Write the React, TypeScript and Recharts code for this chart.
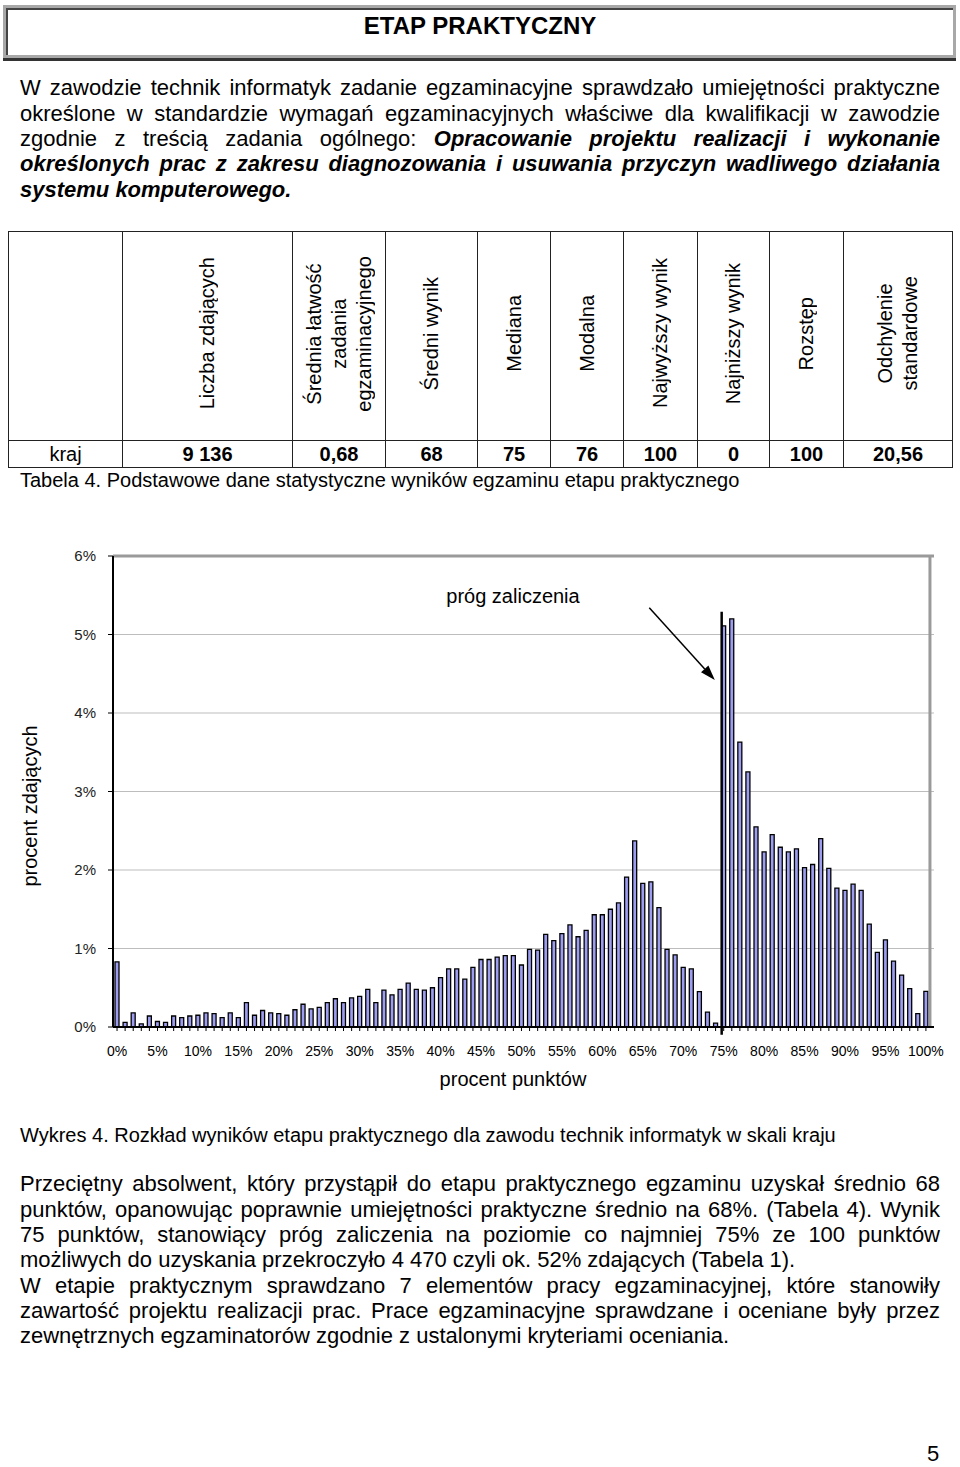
import React from 'react';
import { ComposedChart, Bar, XAxis, YAxis, CartesianGrid, ReferenceLine } from 'recharts';

// ---- chart data ----
const SCORES = [
  0, 1, 2, 3, 4, 5, 6, 7, 8, 9, 10, 11, 12, 13, 14, 15, 16, 17, 18, 19, 20,
  21, 22, 23, 24, 25, 26, 27, 28, 29, 30, 31, 32, 33, 34, 35, 36, 37, 38, 39, 40,
  41, 42, 43, 44, 45, 46, 47, 48, 49, 50, 51, 52, 53, 54, 55, 56, 57, 58, 59, 60,
  61, 62, 63, 64, 65, 66, 67, 68, 69, 70, 71, 72, 73, 74, 75, 76, 77, 78, 79, 80,
  81, 82, 83, 84, 85, 86, 87, 88, 89, 90, 91, 92, 93, 94, 95, 96, 97, 98, 99, 100,
];
const SHARE = [
  0.83, 0.06, 0.18, 0.04, 0.14, 0.07, 0.06, 0.14, 0.12, 0.14, 0.15,
  0.18, 0.17, 0.12, 0.18, 0.12, 0.31, 0.15, 0.21, 0.18, 0.17,
  0.15, 0.22, 0.29, 0.23, 0.25, 0.31, 0.36, 0.31, 0.37, 0.39,
  0.48, 0.31, 0.47, 0.41, 0.48, 0.56, 0.48, 0.47, 0.5, 0.63,
  0.74, 0.74, 0.61, 0.76, 0.86, 0.86, 0.89, 0.91, 0.91, 0.79,
  0.99, 0.98, 1.18, 1.1, 1.19, 1.3, 1.15, 1.23, 1.43, 1.43,
  1.5, 1.58, 1.91, 2.37, 1.83, 1.85, 1.52, 0.99, 0.92, 0.76,
  0.74, 0.45, 0.19, 0.05, 5.11, 5.2, 3.63, 3.25, 2.55, 2.23,
  2.45, 2.29, 2.23, 2.27, 2.03, 2.07, 2.4, 2.02, 1.77, 1.74,
  1.82, 1.74, 1.31, 0.95, 1.11, 0.84, 0.66, 0.49, 0.17, 0.455,
];
const Y_TICKS = [0, 1, 2, 3, 4, 5, 6];
const X_LABELLED = [0, 5, 10, 15, 20, 25, 30, 35, 40, 45, 50, 55, 60, 65, 70, 75, 80, 85, 90, 95, 100];
const THRESHOLD_X = 74.75;
const THRESHOLD_TOP = 5.29;
const THRESHOLD_BOTTOM = -0.1;
const ARROW_FROM = { x: 65.8, y: 5.34 };
const ARROW_TO = { x: 73.9, y: 4.42 };

// ---- table data ----
const TABLE_HEADERS = [
  [''],
  ['Liczba zdających'],
  ['Średnia łatwość', 'zadania', 'egzaminacyjnego'],
  ['Średni wynik'],
  ['Mediana'],
  ['Modalna'],
  ['Najwyższy wynik'],
  ['Najniższy wynik'],
  ['Rozstęp'],
  ['Odchylenie', 'standardowe'],
];
const TABLE_ROW = ['kraj', '9 136', '0,68', '68', '75', '76', '100', '0', '100', '20,56'];
const TABLE_COL_WIDTHS = [114, 170, 93, 92, 73, 73, 74, 72, 74, 109];

const chartData = SCORES.map((s, i) => ({ score: s, share: SHARE[i] }));

const FONT = '"Liberation Sans", Arial, sans-serif';

const Arrow = (p: any) => {
  const { x1, y1, x2, y2 } = p;
  const ang = Math.atan2(y2 - y1, x2 - x1);
  const L = 15;
  const W = 5;
  const bx = x2 - L * Math.cos(ang);
  const by = y2 - L * Math.sin(ang);
  const px = -Math.sin(ang) * W;
  const py = Math.cos(ang) * W;
  return (
    <g>
      <line x1={x1} y1={y1} x2={bx} y2={by} stroke="#000" strokeWidth={1.5} />
      <polygon points={`${x2},${y2} ${bx + px},${by + py} ${bx - px},${by - py}`} fill="#000" />
    </g>
  );
};

const JLine = ({ children, last }: { children: React.ReactNode; last?: boolean }) => (
  <div
    style={{
      textAlign: last ? 'left' : 'justify',
      textAlignLast: last ? 'left' : 'justify',
      height: 25.3,
    } as React.CSSProperties}
  >
    {children}
  </div>
);

const BI = ({ children }: { children: React.ReactNode }) => (
  <span style={{ fontWeight: 'bold', fontStyle: 'italic' }}>{children}</span>
);

export default function App() {
  return (
    <div
      style={{
        position: 'absolute',
        left: 0,
        top: 0,
        width: 960,
        height: 1467,
        background: '#fff',
        fontFamily: FONT,
        color: '#000',
      }}
    >
      {/* title box */}
      <div
        style={{
          position: 'absolute',
          left: 3,
          top: 5,
          width: 953,
          height: 53,
          boxSizing: 'border-box',
          border: '3px solid #a8a8a8',
          boxShadow: 'inset 2px 2px 0 #444, 0 3px 0 #333',
        }}
      />
      <div
        style={{
          position: 'absolute',
          left: 0,
          top: 12,
          width: 960,
          textAlign: 'center',
          fontSize: 24,
          lineHeight: '28px',
          fontWeight: 'bold',
        }}
      >
        ETAP PRAKTYCZNY
      </div>

      {/* paragraph 1 */}
      <div style={{ position: 'absolute', left: 20, top: 75.4, width: 920, fontSize: 22, lineHeight: '25.3px' }}>
        <JLine>W zawodzie technik informatyk zadanie egzaminacyjne sprawdzało umiejętności praktyczne</JLine>
        <JLine>określone w standardzie wymagań egzaminacyjnych właściwe dla kwalifikacji w zawodzie</JLine>
        <JLine>
          zgodnie z treścią zadania ogólnego: <BI>Opracowanie projektu realizacji i wykonanie</BI>
        </JLine>
        <JLine>
          <BI>określonych prac z zakresu diagnozowania i usuwania przyczyn wadliwego działania</BI>
        </JLine>
        <JLine last>
          <BI>systemu komputerowego.</BI>
        </JLine>
      </div>

      {/* table */}
      <table
        style={{
          position: 'absolute',
          left: 8,
          top: 231,
          width: 944,
          borderCollapse: 'collapse',
          tableLayout: 'fixed',
          fontSize: 20,
          fontFamily: FONT,
        }}
      >
        <colgroup>
          {TABLE_COL_WIDTHS.map((w, i) => (
            <col key={i} style={{ width: w }} />
          ))}
        </colgroup>
        <tbody>
          <tr style={{ height: 209 }}>
            {TABLE_HEADERS.map((lines, i) => (
              <td
                key={i}
                style={{
                  border: '1.5px solid #222',
                  textAlign: 'center',
                  verticalAlign: 'middle',
                  padding: 0,
                }}
              >
                {lines[0] ? (
                  <div
                    style={{
                      display: 'inline-block',
                      writingMode: 'vertical-rl',
                      transform: 'rotate(180deg)',
                      lineHeight: '25px',
                      textAlign: 'center',
                      whiteSpace: 'nowrap',
                    } as React.CSSProperties}
                  >
                    {lines.map((l, j) => (
                      <div key={j}>{l}</div>
                    ))}
                  </div>
                ) : null}
              </td>
            ))}
          </tr>
          <tr style={{ height: 27 }}>
            {TABLE_ROW.map((v, i) => (
              <td
                key={i}
                style={{
                  border: '1.5px solid #222',
                  textAlign: 'center',
                  verticalAlign: 'middle',
                  padding: 0,
                  fontWeight: i === 0 ? 'normal' : 'bold',
                  lineHeight: '24px',
                }}
              >
                {v}
              </td>
            ))}
          </tr>
        </tbody>
      </table>

      <div style={{ position: 'absolute', left: 20, top: 468, fontSize: 20, lineHeight: '24px', whiteSpace: 'nowrap' }}>
        Tabela 4. Podstawowe dane statystyczne wyników egzaminu etapu praktycznego
      </div>

      {/* chart */}
      <div style={{ position: 'absolute', left: 0, top: 540, width: 960, height: 520 }}>
        <ComposedChart
          width={960}
          height={520}
          data={chartData}
          margin={{ top: 16, right: 26, bottom: 0, left: 0 }}
          style={{ fontFamily: FONT }}
        >
          <CartesianGrid vertical={false} stroke="#bdbdbd" strokeWidth={1} />
          <XAxis
            dataKey="score"
            type="number"
            domain={[-0.5, 100.5]}
            ticks={SCORES}
            interval={0}
            allowDecimals={false}
            tickFormatter={(v: number) => (X_LABELLED.includes(v) ? `${v}%` : '')}
            tickSize={4}
            tickMargin={15}
            height={33}
            axisLine={{ stroke: '#000', strokeWidth: 2 }}
            tickLine={{ stroke: '#000', strokeWidth: 1 }}
            tick={{ fontSize: 14, fill: '#000', fontFamily: FONT }}
          />
          <YAxis
            type="number"
            domain={[0, 6]}
            ticks={Y_TICKS}
            interval={0}
            tickFormatter={(v: number) => `${v}%`}
            width={113}
            tickSize={5}
            tickMargin={12}
            axisLine={{ stroke: '#000', strokeWidth: 2 }}
            tickLine={{ stroke: '#000', strokeWidth: 1 }}
            tick={{ fontSize: 15, fill: '#222', fontFamily: FONT }}
          />
          <ReferenceLine y={6} stroke="#9a9a9a" strokeWidth={3} />
          <ReferenceLine x={100.5} stroke="#9a9a9a" strokeWidth={3} />
          <Bar
            dataKey="share"
            fill="#9c9cf0"
            stroke="#000"
            strokeWidth={1.3}
            barSize={4}
            isAnimationActive={false}
          />
          <ReferenceLine
            segment={[
              { x: THRESHOLD_X, y: THRESHOLD_BOTTOM },
              { x: THRESHOLD_X, y: THRESHOLD_TOP },
            ]}
            stroke="#000"
            strokeWidth={2.5}
            ifOverflow="visible"
          />
          <ReferenceLine
            segment={[ARROW_FROM, ARROW_TO]}
            stroke="#000"
            strokeWidth={1.5}
            ifOverflow="visible"
            shape={Arrow}
          />
        </ComposedChart>
      </div>

      <div
        style={{
          position: 'absolute',
          left: 413,
          top: 584,
          width: 200,
          textAlign: 'center',
          fontSize: 20,
          lineHeight: '24px',
        }}
      >
        próg zaliczenia
      </div>
      <div
        style={{
          position: 'absolute',
          left: -70,
          top: 794,
          width: 200,
          textAlign: 'center',
          fontSize: 20,
          lineHeight: '24px',
          transform: 'rotate(-90deg)',
        }}
      >
        procent zdających
      </div>
      <div
        style={{
          position: 'absolute',
          left: 413,
          top: 1067,
          width: 200,
          textAlign: 'center',
          fontSize: 20,
          lineHeight: '24px',
        }}
      >
        procent punktów
      </div>

      <div style={{ position: 'absolute', left: 20, top: 1123, fontSize: 20, lineHeight: '24px', whiteSpace: 'nowrap' }}>
        Wykres 4. Rozkład wyników etapu praktycznego dla zawodu technik informatyk w skali kraju
      </div>

      {/* paragraph 2 */}
      <div style={{ position: 'absolute', left: 20, top: 1171.4, width: 920, fontSize: 22, lineHeight: '25.3px' }}>
        <JLine>Przeciętny absolwent, który przystąpił do etapu praktycznego egzaminu uzyskał średnio 68</JLine>
        <JLine>punktów, opanowując poprawnie umiejętności praktyczne średnio na 68%. (Tabela 4). Wynik</JLine>
        <JLine>75 punktów, stanowiący próg zaliczenia na poziomie co najmniej 75% ze 100 punktów</JLine>
        <JLine last>możliwych do uzyskania przekroczyło 4 470 czyli ok. 52% zdających (Tabela 1).</JLine>
        <JLine>W etapie praktycznym sprawdzano 7 elementów pracy egzaminacyjnej, które stanowiły</JLine>
        <JLine>zawartość projektu realizacji prac. Prace egzaminacyjne sprawdzane i oceniane były przez</JLine>
        <JLine last>zewnętrznych egzaminatorów zgodnie z ustalonymi kryteriami oceniania.</JLine>
      </div>

      <div style={{ position: 'absolute', left: 920, top: 1443, width: 26, textAlign: 'center', fontSize: 22, lineHeight: '22px' }}>
        5
      </div>
    </div>
  );
}
